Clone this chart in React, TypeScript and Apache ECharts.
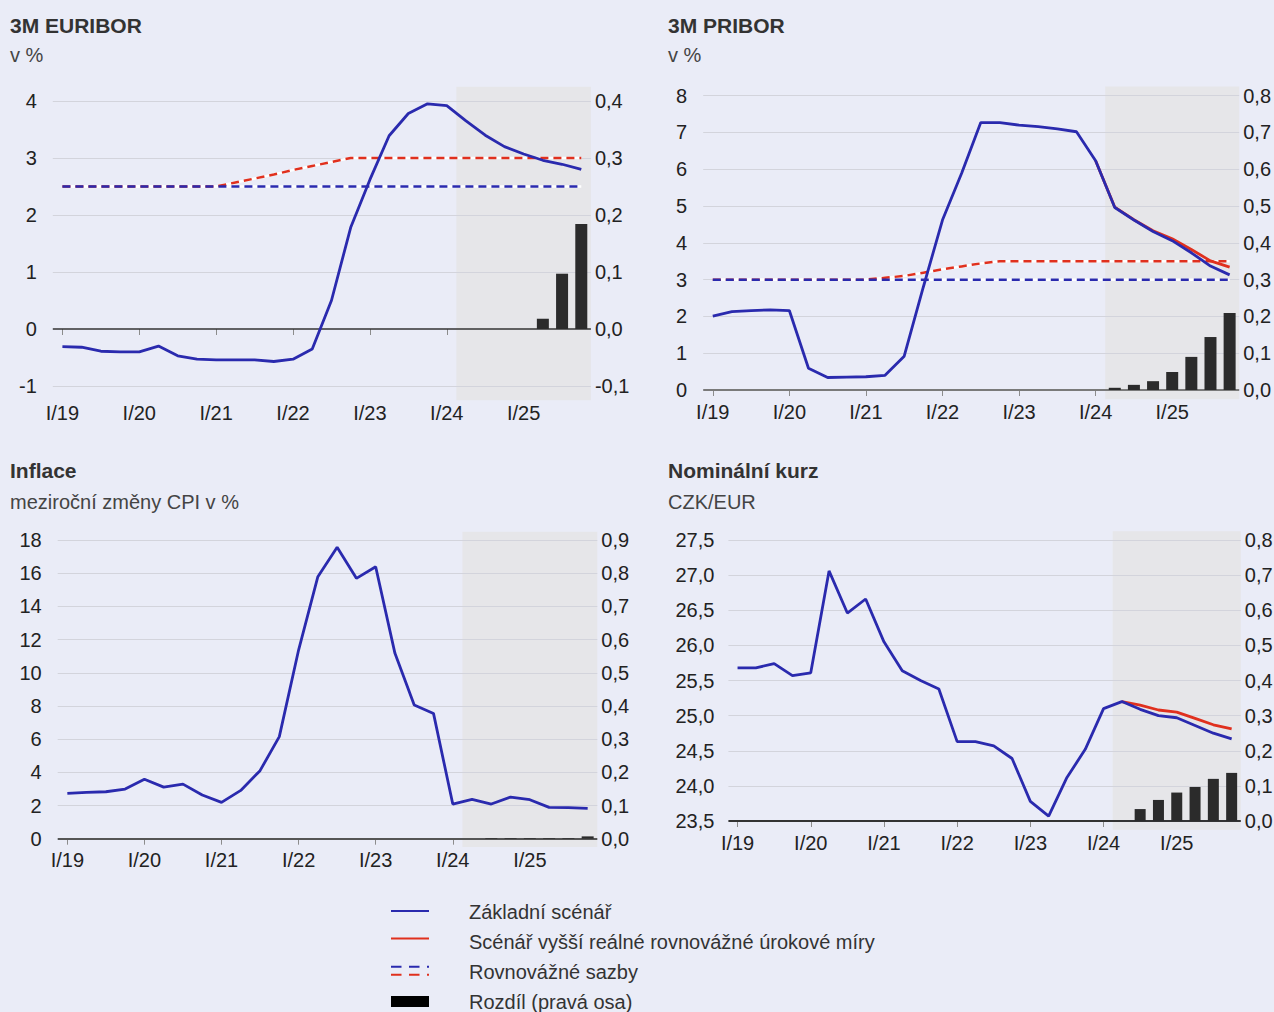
import React, { useEffect, useRef } from 'react';
import * as echarts from 'echarts';

// Quarterly timeline shared by all four panels
const quarters = [
  'I/19', 'II/19', 'III/19', 'IV/19',
  'I/20', 'II/20', 'III/20', 'IV/20',
  'I/21', 'II/21', 'III/21', 'IV/21',
  'I/22', 'II/22', 'III/22', 'IV/22',
  'I/23', 'II/23', 'III/23', 'IV/23',
  'I/24', 'II/24', 'III/24', 'IV/24',
  'I/25', 'II/25', 'III/25', 'IV/25',
];
const yearStarts = ['I/19', 'I/20', 'I/21', 'I/22', 'I/23', 'I/24', 'I/25'];
const forecastFrom = 'II/24';

// 3M EURIBOR
const euriborBase = [-0.31, -0.32, -0.39, -0.40, -0.40, -0.30, -0.47, -0.53, -0.54, -0.54, -0.54, -0.57, -0.53, -0.35, 0.50, 1.78, 2.62, 3.39, 3.78, 3.95, 3.92, 3.65, 3.40, 3.20, 3.07, 2.96, 2.89, 2.80];
const euriborEqBase = [2.5, 2.5, 2.5, 2.5, 2.5, 2.5, 2.5, 2.5, 2.5, 2.5, 2.5, 2.5, 2.5, 2.5, 2.5, 2.5, 2.5, 2.5, 2.5, 2.5, 2.5, 2.5, 2.5, 2.5, 2.5, 2.5, 2.5, 2.5];
const euriborEqHigh = [2.5, 2.5, 2.5, 2.5, 2.5, 2.5, 2.5, 2.5, 2.5, 2.57, 2.64, 2.71, 2.79, 2.86, 2.93, 3.0, 3.0, 3.0, 3.0, 3.0, 3.0, 3.0, 3.0, 3.0, 3.0, 3.0, 3.0, 3.0];
const euriborDiff = [null, null, null, null, null, null, null, null, null, null, null, null, null, null, null, null, null, null, null, null, null, null, null, null, null, 0.018, 0.097, 0.184];
const euriborTicks = [-1, 0, 1, 2, 3, 4];
const euriborDiffTicks = [-0.1, 0, 0.1, 0.2, 0.3, 0.4];

// 3M PRIBOR
const priborBase = [2.01, 2.13, 2.16, 2.18, 2.16, 0.59, 0.34, 0.35, 0.36, 0.40, 0.92, 2.80, 4.62, 5.89, 7.27, 7.27, 7.20, 7.16, 7.10, 7.02, 6.23, 4.96, 4.62, 4.31, 4.06, 3.73, 3.37, 3.13];
const priborHigh = [null, null, null, null, null, null, null, null, null, null, null, null, null, null, null, null, null, null, null, null, 6.23, 4.97, 4.63, 4.33, 4.11, 3.82, 3.51, 3.34];
const priborEqBase = [3.0, 3.0, 3.0, 3.0, 3.0, 3.0, 3.0, 3.0, 3.0, 3.0, 3.0, 3.0, 3.0, 3.0, 3.0, 3.0, 3.0, 3.0, 3.0, 3.0, 3.0, 3.0, 3.0, 3.0, 3.0, 3.0, 3.0, 3.0];
const priborEqHigh = [3.0, 3.0, 3.0, 3.0, 3.0, 3.0, 3.0, 3.0, 3.0, 3.05, 3.1, 3.19, 3.28, 3.36, 3.44, 3.5, 3.5, 3.5, 3.5, 3.5, 3.5, 3.5, 3.5, 3.5, 3.5, 3.5, 3.5, 3.5];
const priborDiff = [null, null, null, null, null, null, null, null, null, null, null, null, null, null, null, null, null, null, null, null, null, 0.006, 0.014, 0.024, 0.049, 0.090, 0.144, 0.209];
const priborTicks = [0, 1, 2, 3, 4, 5, 6, 7, 8];
const priborDiffTicks = [0, 0.1, 0.2, 0.3, 0.4, 0.5, 0.6, 0.7, 0.8];

// Inflation, y/y CPI
const inflationBase = [2.73, 2.79, 2.83, 2.99, 3.58, 3.11, 3.29, 2.63, 2.19, 2.91, 4.10, 6.15, 11.37, 15.79, 17.56, 15.69, 16.39, 11.17, 8.06, 7.55, 2.09, 2.37, 2.09, 2.51, 2.35, 1.89, 1.87, 1.83];
const inflationDiff = [null, null, null, null, null, null, null, null, null, null, null, null, null, null, null, null, null, null, null, null, null, null, 0.002, 0.002, 0.002, 0.002, 0.002, 0.007];
const inflationTicks = [0, 2, 4, 6, 8, 10, 12, 14, 16, 18];
const inflationDiffTicks = [0, 0.1, 0.2, 0.3, 0.4, 0.5, 0.6, 0.7, 0.8, 0.9];

// Nominal exchange rate CZK/EUR
const fxBase = [25.68, 25.68, 25.74, 25.57, 25.61, 27.06, 26.46, 26.66, 26.05, 25.64, 25.50, 25.38, 24.63, 24.63, 24.57, 24.39, 23.78, 23.57, 24.12, 24.52, 25.10, 25.20, 25.09, 25.00, 24.97, 24.86, 24.75, 24.67];
const fxHigh = [null, null, null, null, null, null, null, null, null, null, null, null, null, null, null, null, null, null, null, null, null, 25.20, 25.15, 25.08, 25.05, 24.96, 24.87, 24.81];
const fxDiff = [null, null, null, null, null, null, null, null, null, null, null, null, null, null, null, null, null, null, null, null, null, null, 0.034, 0.060, 0.081, 0.097, 0.120, 0.137];
const fxTicks = [23.5, 24.0, 24.5, 25.0, 25.5, 26.0, 26.5, 27.0, 27.5];
const fxDiffTicks = [0, 0.1, 0.2, 0.3, 0.4, 0.5, 0.6, 0.7, 0.8];

const legendItems = [
  'Základní scénář',
  'Scénář vyšší reálné rovnovážné úrokové míry',
  'Rovnovážné sazby',
  'Rozdíl (pravá osa)',
];

const BG = '#eaecf7';
const SHADE = '#e6e6e9';
const BLUE = '#2a2aae';
const RED = '#e0301e';
const BAR = '#2b2b2b';
const GRIDLINE = '#d3d4dc';
const TEXT = '#222222';
const FONT = '"Liberation Sans", Arial, Helvetica, sans-serif';
const SOLID_WIDTH = 2.8;
const DASH_WIDTH = 2.5;

type Series = (number | null)[];

interface Panel {
  title: string;
  subtitle: string;
  tx: number;
  ty: number;
  sy: number;
  grid: { left: number; top: number; width: number; height: number };
  yMin: number;
  yMax: number;
  yTicks: number[];
  yDigits: number;
  rMin: number;
  rMax: number;
  rTicks: number[];
  baseValue: number;
  baseColor: string;
  baseWidth: number;
  base: Series;
  high?: Series;
  eqBase?: Series;
  eqHigh?: Series;
  diff: Series;
  barWidth: number;
  leftMargin: number;
}

const panels: Panel[] = [
  {
    title: '3M EURIBOR', subtitle: 'v %', tx: 10, ty: 25.5, sy: 55,
    grid: { left: 52.8, top: 86.75, width: 538.1, height: 313.5 },
    yMin: -1.25, yMax: 4.25, yTicks: euriborTicks, yDigits: 0,
    rMin: -0.125, rMax: 0.425, rTicks: euriborDiffTicks,
    baseValue: 0, baseColor: '#333333', baseWidth: 1.5,
    base: euriborBase, eqBase: euriborEqBase, eqHigh: euriborEqHigh, diff: euriborDiff,
    barWidth: 12, leftMargin: 16,
  },
  {
    title: '3M PRIBOR', subtitle: 'v %', tx: 668, ty: 25.5, sy: 55,
    grid: { left: 703.2, top: 86.5, width: 536, height: 312.7 },
    yMin: -0.25, yMax: 8.25, yTicks: priborTicks, yDigits: 0,
    rMin: -0.025, rMax: 0.825, rTicks: priborDiffTicks,
    baseValue: 0, baseColor: '#7a7a7a', baseWidth: 2,
    base: priborBase, high: priborHigh, eqBase: priborEqBase, eqHigh: priborEqHigh, diff: priborDiff,
    barWidth: 12, leftMargin: 16,
  },
  {
    title: 'Inflace', subtitle: 'meziroční změny CPI v %', tx: 10, ty: 470, sy: 501.5,
    grid: { left: 57.7, top: 531.7, width: 539.6, height: 315.3 },
    yMin: -0.5, yMax: 18.5, yTicks: inflationTicks, yDigits: 0,
    rMin: -0.025, rMax: 0.925, rTicks: inflationDiffTicks,
    baseValue: 0, baseColor: '#555555', baseWidth: 2,
    base: inflationBase, diff: inflationDiff,
    barWidth: 12, leftMargin: 16,
  },
  {
    title: 'Nominální kurz', subtitle: 'CZK/EUR', tx: 668, ty: 470, sy: 501.5,
    grid: { left: 728.4, top: 531.2, width: 512.4, height: 298.6 },
    yMin: 23.375, yMax: 27.625, yTicks: fxTicks, yDigits: 1,
    rMin: -0.025, rMax: 0.825, rTicks: fxDiffTicks,
    baseValue: 23.5, baseColor: '#333333', baseWidth: 2,
    base: fxBase, high: fxHigh, diff: fxDiff,
    barWidth: 11, leftMargin: 14,
  },
];

const decimal = (digits: number) => (v: number) => Number(v).toFixed(digits).replace('.', ',');

const toPairs = (values: Series) =>
  values.map((v, i) => [i, v] as [number, number | null]).filter((p) => p[1] !== null);

function buildOption() {
  const grids: any[] = [];
  const xAxes: any[] = [];
  const yAxes: any[] = [];
  const series: any[] = [];
  const graphics: any[] = [];

  const tickIdx = yearStarts.map((q) => quarters.indexOf(q));
  const shadeStart = quarters.indexOf(forecastFrom) - 0.5;
  const shadeEnd = quarters.length - 0.5;

  panels.forEach((p, k) => {
    grids.push({ ...p.grid, containLabel: false, outerBoundsMode: 'none' });

    xAxes.push({
      type: 'value',
      gridIndex: k,
      min: -0.5,
      max: quarters.length - 0.5,
      axisLine: { show: false },
      splitLine: { show: false },
      axisTick: {
        show: true,
        customValues: tickIdx,
        length: 6,
        lineStyle: { color: '#8c8c8c', width: 1 },
      },
      axisLabel: {
        customValues: tickIdx,
        formatter: (v: number) => quarters[Math.round(v)],
        color: TEXT,
        fontSize: 20,
        fontFamily: FONT,
        margin: 3,
      },
    });

    yAxes.push({
      type: 'value',
      gridIndex: k,
      position: 'left',
      min: p.yMin,
      max: p.yMax,
      axisLine: { show: false },
      axisTick: { show: false },
      splitLine: { show: false },
      axisLabel: {
        customValues: p.yTicks,
        formatter: decimal(p.yDigits),
        color: TEXT,
        fontSize: 20,
        fontFamily: FONT,
        margin: p.leftMargin,
      },
    });
    yAxes.push({
      type: 'value',
      gridIndex: k,
      position: 'right',
      min: p.rMin,
      max: p.rMax,
      axisLine: { show: false },
      axisTick: { show: false },
      splitLine: { show: false },
      axisLabel: {
        customValues: p.rTicks,
        formatter: decimal(1),
        color: TEXT,
        fontSize: 20,
        fontFamily: FONT,
        margin: 4,
      },
    });

    const xi = k;
    const yl = 2 * k;
    const yr = 2 * k + 1;

    // difference bars on the right axis
    series.push({
      type: 'bar',
      xAxisIndex: xi,
      yAxisIndex: yr,
      data: toPairs(p.diff),
      barWidth: p.barWidth,
      itemStyle: { color: BAR },
      silent: true,
      z: 3,
    });

    // white backing behind the dashed equilibrium lines
    const dashed = [
      { data: p.eqHigh, color: RED, z: 5 },
      { data: p.eqBase, color: BLUE, z: 6 },
    ];
    dashed.forEach((d) => {
      if (!d.data) return;
      series.push({
        type: 'line',
        xAxisIndex: xi,
        yAxisIndex: yl,
        data: toPairs(d.data),
        symbol: 'none',
        silent: true,
        lineStyle: { color: '#ffffff', width: DASH_WIDTH },
        z: 4,
      });
      series.push({
        type: 'line',
        xAxisIndex: xi,
        yAxisIndex: yl,
        data: toPairs(d.data),
        symbol: 'none',
        silent: true,
        lineStyle: { color: d.color, width: DASH_WIDTH, type: [8, 5] },
        z: d.z,
      });
    });

    if (p.high) {
      series.push({
        type: 'line',
        xAxisIndex: xi,
        yAxisIndex: yl,
        data: toPairs(p.high),
        symbol: 'none',
        silent: true,
        lineStyle: { color: RED, width: SOLID_WIDTH },
        z: 7,
      });
    }

    series.push({
      type: 'line',
      xAxisIndex: xi,
      yAxisIndex: yl,
      data: toPairs(p.base),
      symbol: 'none',
      silent: true,
      lineStyle: { color: BLUE, width: SOLID_WIDTH },
      z: 8,
      markArea: {
        silent: true,
        z: 1,
        itemStyle: { color: SHADE },
        data: [[{ xAxis: shadeStart }, { xAxis: shadeEnd }]],
      },
      markLine: {
        silent: true,
        z: 2,
        symbol: ['none', 'none'],
        label: { show: false },
        emphasis: { disabled: true },
        data: p.yTicks.map((v) => ({
          yAxis: v,
          lineStyle: {
            color: v === p.baseValue ? p.baseColor : GRIDLINE,
            width: v === p.baseValue ? p.baseWidth : 1,
            type: 'solid',
          },
        })),
      },
    });

    graphics.push({
      type: 'text',
      x: p.tx,
      y: p.ty,
      style: {
        text: p.title,
        fill: '#333333',
        font: `bold 21px ${FONT}`,
        verticalAlign: 'middle',
        align: 'left',
      },
    });
    graphics.push({
      type: 'text',
      x: p.tx,
      y: p.sy,
      style: {
        text: p.subtitle,
        fill: '#444444',
        font: `20px ${FONT}`,
        verticalAlign: 'middle',
        align: 'left',
      },
    });
  });

  // legend
  const lx1 = 391;
  const lx2 = 429;
  const textX = 469;
  const rows = [912, 942, 972, 1002];
  graphics.push({ type: 'line', shape: { x1: lx1, y1: 911, x2: lx2, y2: 911 }, style: { stroke: BLUE, lineWidth: 2 } });
  graphics.push({ type: 'line', shape: { x1: lx1, y1: 938.5, x2: lx2, y2: 938.5 }, style: { stroke: RED, lineWidth: 2 } });
  graphics.push({ type: 'line', shape: { x1: lx1, y1: 966.7, x2: lx2, y2: 966.7 }, style: { stroke: BLUE, lineWidth: 2, lineDash: [10.5, 7.5] } });
  graphics.push({ type: 'line', shape: { x1: lx1, y1: 974.7, x2: lx2, y2: 974.7 }, style: { stroke: RED, lineWidth: 2, lineDash: [10.5, 7.5] } });
  graphics.push({ type: 'rect', shape: { x: lx1, y: 996, width: lx2 - lx1, height: 11 }, style: { fill: '#000000' } });
  legendItems.forEach((label, i) => {
    graphics.push({
      type: 'text',
      x: textX,
      y: rows[i],
      style: {
        text: label,
        fill: '#333333',
        font: `20px ${FONT}`,
        verticalAlign: 'middle',
        align: 'left',
      },
    });
  });

  return {
    animation: false,
    backgroundColor: BG,
    textStyle: { fontFamily: FONT },
    grid: grids,
    xAxis: xAxes,
    yAxis: yAxes,
    series,
    graphic: graphics,
  };
}

export default function App() {
  const ref = useRef<HTMLDivElement>(null);
  useEffect(() => {
    if (!ref.current) return;
    const chart = echarts.init(ref.current, undefined, { renderer: 'svg' });
    chart.setOption(buildOption());
    return () => {
      chart.dispose();
    };
  }, []);
  return (
    <div
      ref={ref}
      style={{ position: 'fixed', left: 0, top: 0, width: 1274, height: 1012 }}
    />
  );
}
